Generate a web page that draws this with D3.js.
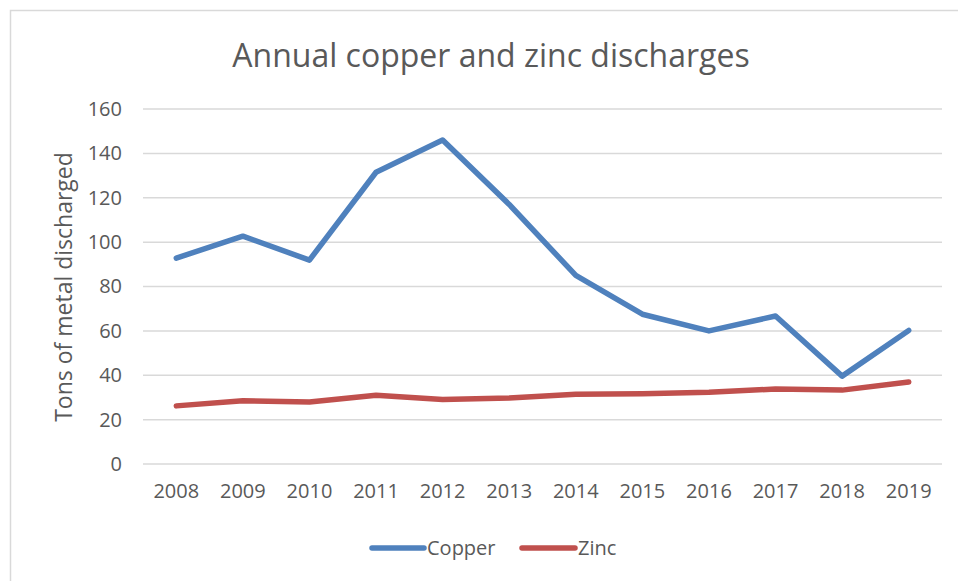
<!DOCTYPE html>
<html>
<head>
<meta charset="utf-8">
<script src="https://cdn.jsdelivr.net/npm/d3@7"></script>
<style>
  body { margin: 0; background: #fff; }
  svg text { font-family: "Open Sans", sans-serif; fill: #595959; }
</style>
</head>
<body>
<svg id="chart"></svg>
<script>
// Chart data
const years = ["2008", "2009", "2010", "2011", "2012", "2013", "2014", "2015", "2016", "2017", "2018", "2019"];
const copper = [92.8, 102.7, 91.9, 131.5, 146, 117, 85, 67.5, 60, 66.7, 39.6, 60.2];
const zinc = [26.2, 28.5, 27.9, 31, 29.1, 29.8, 31.4, 31.7, 32.3, 33.8, 33.3, 37];
const yTicks = [0, 20, 40, 60, 80, 100, 120, 140, 160];

const seriesList = [
  { name: "Copper", values: copper, color: "#4f81bd" },
  { name: "Zinc", values: zinc, color: "#c0504d" }
];

const W = 958, H = 581;
const margin = { top: 109, right: 16, bottom: 117, left: 143 },
  width = W - margin.left - margin.right,
  height = H - margin.top - margin.bottom;

const svg = d3.select("#chart").attr("width", W).attr("height", H);

// chart area border
svg.append("rect")
  .attr("x", 10.5).attr("y", 10.5)
  .attr("width", W).attr("height", H)
  .attr("fill", "none")
  .attr("stroke", "#d9d9d9")
  .attr("stroke-width", 1.5);

svg.append("text")
  .attr("x", 491).attr("y", 67)
  .attr("text-anchor", "middle")
  .style("font-size", "32px")
  .text("Annual copper and zinc discharges");

const g = svg.append("g").attr("transform", `translate(${margin.left},${margin.top})`);

const x = d3.scaleBand().domain(years).range([0, width]);
const y = d3.scaleLinear().domain([0, 160]).range([height, 0]);

// gridlines
g.append("g")
  .selectAll("line")
  .data(yTicks)
  .join("line")
  .attr("x1", 0).attr("x2", width)
  .attr("y1", d => y(d)).attr("y2", d => y(d))
  .attr("stroke", "#d9d9d9")
  .attr("stroke-width", 1.5);

// y axis labels
const yAxis = g.append("g")
  .call(d3.axisLeft(y).tickValues(yTicks).tickSize(0).tickPadding(21));
yAxis.select(".domain").remove();
yAxis.selectAll("text").style("font-size", "20px").attr("fill", "#595959");

// x axis labels
const xAxis = g.append("g")
  .attr("transform", `translate(0,${height})`)
  .call(d3.axisBottom(x).tickSize(0).tickPadding(20));
xAxis.select(".domain").remove();
xAxis.selectAll("text").style("font-size", "20px").attr("fill", "#595959");

// y axis title
svg.append("text")
  .attr("transform", "translate(72,287) rotate(-90)")
  .attr("text-anchor", "middle")
  .style("font-size", "23px")
  .text("Tons of metal discharged");

const line = d3.line()
  .x((d, i) => x(years[i]) + x.bandwidth() / 2)
  .y(d => y(d));

seriesList.forEach(s => {
  g.append("path")
    .datum(s.values)
    .attr("fill", "none")
    .attr("stroke", s.color)
    .attr("stroke-width", 5.5)
    .attr("stroke-linejoin", "round")
    .attr("stroke-linecap", "round")
    .attr("d", line);
});

// legend
const legendPos = [{ x: 372, w: 52 }, { x: 522, w: 53 }];
const legend = svg.append("g");
seriesList.forEach((s, i) => {
  const lg = legend.append("g").attr("transform", `translate(${legendPos[i].x},548)`);
  lg.append("line")
    .attr("x1", 0).attr("x2", legendPos[i].w)
    .attr("stroke", s.color).attr("stroke-width", 5.5)
    .attr("stroke-linecap", "round");
  lg.append("text")
    .attr("x", legendPos[i].w + 3).attr("y", 7)
    .style("font-size", "20px")
    .text(s.name);
});
</script>
</body>
</html>
